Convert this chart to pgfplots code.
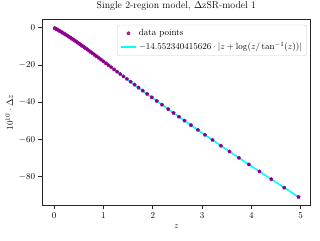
\documentclass[border=0pt]{standalone}
\usepackage{pgfplots}
\usepackage{pgfplotstable}
\pgfplotsset{compat=1.18}
\usetikzlibrary{calc}
\usetikzlibrary{plotmarks}
\definecolor{mplpurple}{HTML}{800080}
\definecolor{mplcyan}{HTML}{00FFFF}
\pgfplotstableread{
z f
0.01 -0.146
0.03 -0.441
0.05 -0.740
0.08 -1.195
0.11 -1.659
0.14 -2.132
0.17 -2.612
0.20 -3.101
0.23 -3.598
0.26 -4.102
0.29 -4.614
0.32 -5.133
0.35 -5.658
0.38 -6.190
0.41 -6.728
0.44 -7.272
0.47 -7.821
0.50 -8.375
0.525 -8.840
0.55 -9.308
0.58 -9.874
0.61 -10.444
0.64 -11.017
0.67 -11.593
0.705 -12.269
0.74 -12.948
0.78 -13.729
0.82 -14.512
0.86 -15.299
0.905 -16.186
0.95 -17.077
1.00 -18.068
1.05 -19.060
1.10 -20.054
1.155 -21.147
1.215 -22.340
1.275 -23.531
1.34 -24.820
1.405 -26.107
1.475 -27.489
1.55 -28.965
1.63 -30.535
1.71 -32.098
1.795 -33.752
1.885 -35.495
1.98 -37.326
2.08 -39.243
2.185 -41.244
2.312 -43.649
2.42 -45.684
2.53 -47.740
2.643 -49.842
2.773 -52.246
2.915 -54.855
3.057 -57.446
3.211 -60.238
3.381 -63.299
3.556 -66.429
3.746 -69.803
3.949 -73.383
4.164 -77.149
4.402 -81.287
4.665 -85.828
4.955 -90.797
}\datatable
\begin{document}
\begin{tikzpicture}
\begin{axis}[
  name=ax,
  scale only axis,
  width=298.3pt, height=206.9pt,
  xmin=-0.2475, xmax=5.2025,
  ymin=-95.5, ymax=4.6,
  xtick={0,1,2,3,4,5},
  ytick={-80,-60,-40,-20,0},
  tick align=outside,
  xtick pos=bottom, ytick pos=left,
  major tick length=4.2pt,
  axis line style={line width=0.8pt, black!85},
  tick style={line width=0.8pt, black!85},
  title style={font=\fontsize{11}{13}\selectfont},
  title={Single 2-region model, $\Delta$zSR-model 1},
  xlabel={$z$},
  ylabel={$10^{10}\cdot\Delta z$},
  legend cell align=left,
  legend style={at={(rel axis cs:0.985,0.97)}, anchor=north east,
    draw=black!20, rounded corners=2.5pt, fill=white, fill opacity=0.8,
    text opacity=1, row sep=2pt, inner sep=3pt},
]
\addplot[only marks, mark=pentagon*, mark size=2.0pt,
  mark options={fill=mplpurple, draw=mplpurple!70!magenta, line width=0.4pt}]
  table[x=z, y=f] {\datatable};
\addlegendentry{data points}
\addplot[mplcyan, line width=1.8pt, no marks]
  table[x=z, y=f] {\datatable};
\addlegendentry{$-14.552340415626\cdot|z+\log(z/\tan^{-1}(z))|$}
\end{axis}
\pgfresetboundingbox
\path ($(ax.south west)+(-46.6pt,-38.1pt)$) rectangle ($(ax.north east)+(10.3pt,21.4pt)$);
\end{tikzpicture}
\end{document}
